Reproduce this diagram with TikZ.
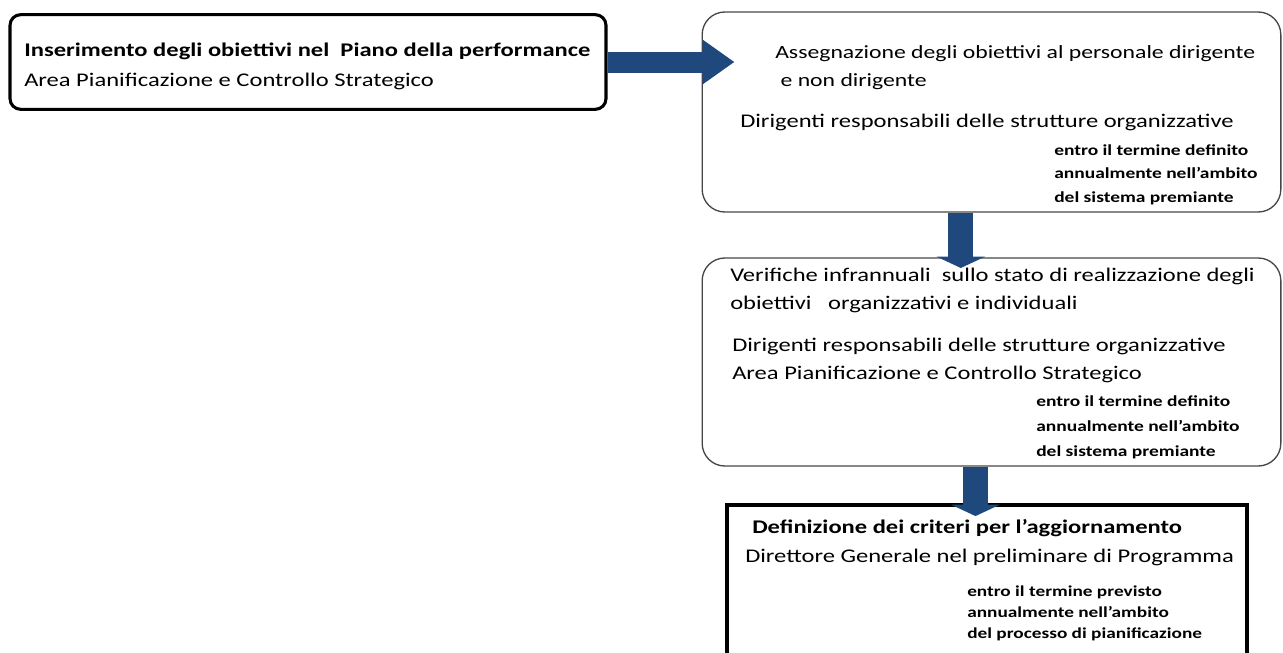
\documentclass[tikz,border=0pt]{standalone}
\usepackage{fontspec}
\setmainfont{Carlito}[FakeStretch=1.27]
\usetikzlibrary{arrows.meta, positioning}
\definecolor{flowBlue}{RGB}{31, 73, 125}
\definecolor{edgeGray}{RGB}{70, 70, 70}

\begin{document}
\begin{tikzpicture}[x=0.75pt, y=-0.75pt,
    thickbox/.style={rectangle, draw=black, line width=2.3pt, rounded corners=8pt, inner sep=0pt},
    softbox/.style={rectangle, draw=edgeGray, line width=1pt, rounded corners=17pt, inner sep=0pt},
    squarebox/.style={rectangle, draw=black, line width=2.4pt, inner sep=0pt},
    bodytxt/.style={anchor=base west, align=left, inner sep=0pt, font=\fontsize{14.5}{21}\selectfont},
    headtxt/.style={bodytxt, font=\fontsize{14.5}{22}\selectfont\bfseries},
    smalltxt/.style={anchor=base west, align=left, inner sep=0pt, font=\fontsize{11.5}{17.6}\selectfont\bfseries},
    fatright/.style={flowBlue, line width=15.75pt, -{Triangle[length=24pt, width=32pt]}},
    fatdown/.style={flowBlue, line width=18.75pt, -{Triangle[length=8.5pt, width=36pt]}}
  ]
    \useasboundingbox (0,0) rectangle (1283,653);
    \clip (0,0) rectangle (1283,653);

    % boxes
    \node[thickbox, minimum width=447pt, minimum height=71pt] (plan) at (308,62) {};
    \node[softbox, minimum width=434pt, minimum height=150pt] (assign) at (991.5,112) {};
    \node[softbox, minimum width=434pt, minimum height=156pt] (check) at (991.5,362) {};
    \node[squarebox, minimum width=390pt, minimum height=150pt] (crit) at (987,605) {};

    % texts (anchored at the baseline of their last line)
    \node[bodytxt, font=\fontsize{14.5}{22.5}\selectfont] (planT) at (24,86) {\textbf{Inserimento degli obiettivi nel\ \ Piano della performance}\\Area Pianificazione e Controllo Strategico};
    \node[bodytxt, font=\fontsize{14}{21}\selectfont] (assignT) at (775,86) {Assegnazione degli obiettivi al personale dirigente\\\hspace{4pt}e non dirigente};
    \node[bodytxt] (assignW) at (740,127) {Dirigenti responsabili delle strutture organizzative};
    \node[smalltxt] (assignD) at (1054,202) {entro il termine definito\\annualmente nell’ambito\\del sistema premiante};
    \node[bodytxt] (checkT) at (730,309) {Verifiche infrannuali\ \ sullo stato di realizzazione degli\\obiettivi\ \ \ organizzativi e individuali};
    \node[bodytxt] (checkW) at (732,379) {Dirigenti responsabili delle strutture organizzative\\Area Pianificazione e Controllo Strategico};
    \node[smalltxt, font=\fontsize{11.5}{18.5}\selectfont\bfseries] (checkD) at (1036,456) {entro il termine definito\\annualmente nell’ambito\\del sistema premiante};
    \node[headtxt] (critT) at (752,533) {Definizione dei criteri per l’aggiornamento};
    \node[bodytxt] (critW) at (745,562) {Direttore Generale nel preliminare di Programma};
    \node[smalltxt, font=\fontsize{11.4}{15.4}\selectfont\bfseries] (critD) at (967,638) {entro il termine previsto\\annualmente nell’ambito\\del processo di pianificazione};

    % block arrows
    \draw[fatright] (plan.east) -- ([xshift=24.75pt]assign.west |- plan.east);
    \draw[fatdown] ([xshift=-23pt]assign.south) -- ([xshift=-23pt, yshift=-8pt]assign.south |- check.north);
    \draw[fatdown] ([xshift=-12pt]check.south) -- ([xshift=-12pt, yshift=-9.5pt]check.south |- crit.north);
  \end{tikzpicture}
\end{document}
